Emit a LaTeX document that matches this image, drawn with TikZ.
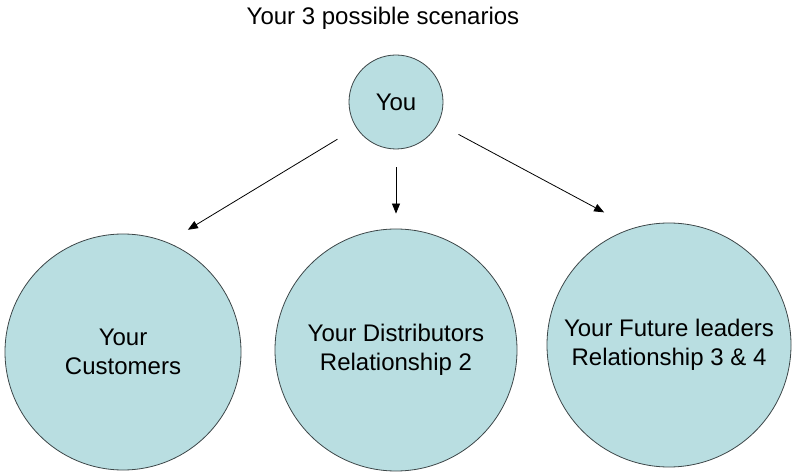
\documentclass[tikz,border=0pt]{standalone}
\usepackage{fontspec}
\setmainfont{Liberation Sans}
\usepackage{xcolor}
\usetikzlibrary{positioning,shapes,arrows.meta,calc}

\definecolor{bubblefill}{RGB}{185,222,225}
\definecolor{bubbleline}{RGB}{60,70,72}

\tikzset{
    bubble/.style={circle, draw=bubbleline, fill=bubblefill, line width=0.8pt,
        inner sep=0pt, align=center, font=\fontsize{24}{29}\selectfont},
    link/.style={-{Triangle[length=10pt,width=8pt]}, line width=0.8pt}
}

\begin{document}
\begin{tikzpicture}[x=1pt,y=1pt]
    \useasboundingbox (0,0) rectangle (792,474);

    % Title
    \node (title) at (383,456) {\fontsize{24}{29}\selectfont Your 3 possible scenarios};

    % Top circle
    \node (you) at (396,372) [bubble, minimum size=94pt] {You};

    % Three scenarios
    \node (cust) at (123,122) [bubble, minimum size=236pt] {Your\\Customers};
    \node (dist) at (396,124) [bubble, minimum size=242pt] {Your Distributors\\Relationship 2};
    \node (lead) at (669,129) [bubble, minimum size=244pt] {Your Future leaders\\Relationship 3 \& 4};

    % Arrows
    \draw[link, shorten <=22pt, shorten >=24pt] (you.213) -- (cust.68);
    \draw[link, shorten <=18pt, shorten >=15pt] (you.south) -- (dist.north);
    \draw[link, shorten <=23pt, shorten >=33pt] (you.333) -- (lead.107);
\end{tikzpicture}
\end{document}
